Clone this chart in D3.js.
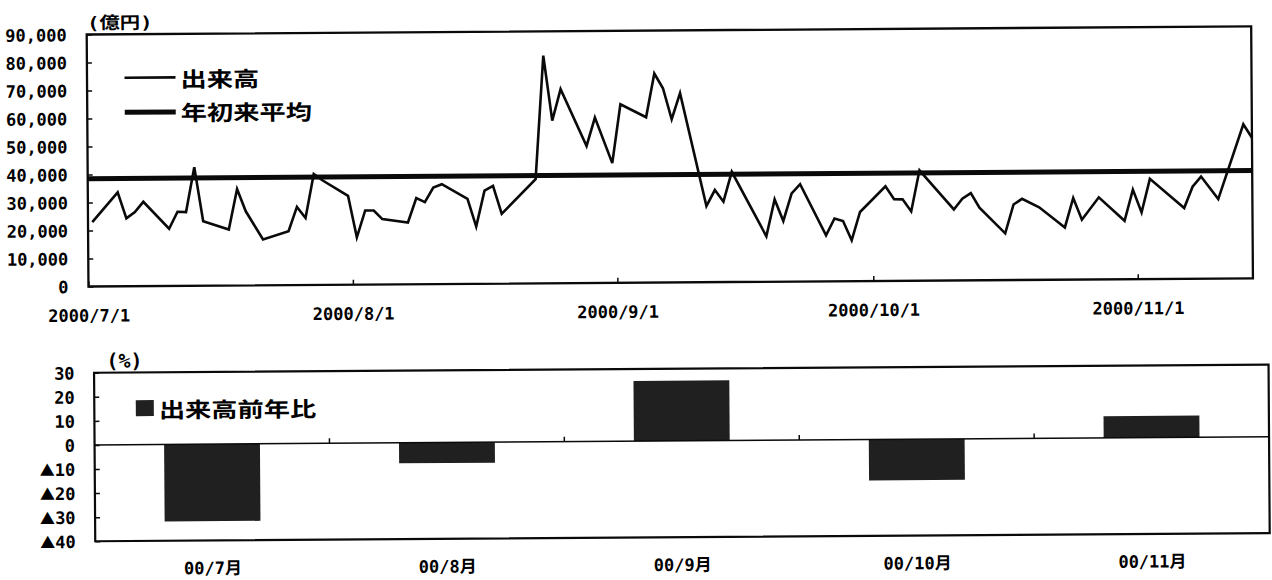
<!DOCTYPE html>
<html><head><meta charset="utf-8">
<script src="https://cdn.jsdelivr.net/npm/d3@7"></script>
<style>
html,body{margin:0;padding:0;background:#fff;}
svg{display:block;}
.num{font-family:"DejaVu Sans Mono","Noto Sans CJK JP",monospace;font-weight:bold;font-size:17px;fill:#000;}
.jp{font-family:"Noto Sans CJK JP",sans-serif;font-weight:bold;fill:#000;}
</style></head><body>
<svg id="chart" width="1272" height="580"></svg>
<script>
// ---------- data ----------
const dates = ["2000-07-01","2000-07-04","2000-07-05","2000-07-06","2000-07-07","2000-07-10","2000-07-11","2000-07-12","2000-07-13","2000-07-14",
"2000-07-17","2000-07-18","2000-07-19","2000-07-21","2000-07-24","2000-07-25","2000-07-26","2000-07-27","2000-07-28","2000-07-31",
"2000-08-01","2000-08-02","2000-08-03","2000-08-04","2000-08-07","2000-08-08","2000-08-09","2000-08-10","2000-08-11","2000-08-14",
"2000-08-15","2000-08-16","2000-08-17","2000-08-18","2000-08-22","2000-08-23","2000-08-24","2000-08-25","2000-08-28","2000-08-29",
"2000-08-31","2000-09-01","2000-09-04","2000-09-05","2000-09-06","2000-09-07","2000-09-08","2000-09-11","2000-09-12","2000-09-13",
"2000-09-14","2000-09-18","2000-09-19","2000-09-20","2000-09-21","2000-09-22","2000-09-25","2000-09-26","2000-09-27","2000-09-28",
"2000-09-29","2000-10-02","2000-10-03","2000-10-04","2000-10-05","2000-10-06","2000-10-10","2000-10-11","2000-10-12","2000-10-13",
"2000-10-16","2000-10-17","2000-10-18","2000-10-20","2000-10-23","2000-10-24","2000-10-25","2000-10-27","2000-10-30","2000-10-31",
"2000-11-01","2000-11-02","2000-11-06","2000-11-07","2000-11-08","2000-11-10","2000-11-13","2000-11-14"];
const volume = [23000,33560,24220,26460,30100,20430,26470,26330,42370,23030,
19980,34450,26460,16330,19220,27900,23910,39590,37360,31750,
16890,26470,26440,23350,22070,30740,29280,34480,35660,30360,
20440,33250,34920,24910,37200,81290,58080,69290,48950,59060,
42750,63770,59070,74660,69370,58270,67570,27160,32890,28700,
39360,16250,29390,21660,31470,34760,16440,22420,21490,14580,
24680,33790,29130,29090,24760,39410,25350,29150,31120,25890,
16680,26970,28980,25900,18660,29170,21390,29320,20890,31990,
23800,35790,25270,32890,36480,28400,55050,50230];
const ytdAverage = 38500;
const volumeTicks = [0,10000,20000,30000,40000,50000,60000,70000,80000,90000];
const monthTicks = ["2000-07-01","2000-08-01","2000-09-01","2000-10-01","2000-11-01"];
const legendTop = ["出来高","年初来平均"];
const unitTop = "(億円)";

const months = ["00/7月","00/8月","00/9月","00/10月","00/11月"];
const yoyChange = [-32,-8.5,25,-17,9];
const yoyTicks = [30,20,10,0,-10,-20,-30,-40];
const legendBottom = "出来高前年比";
const unitBottom = "(%)";

// ---------- drawing ----------
const svg = d3.select("#chart");
svg.append("rect").attr("width",1272).attr("height",580).attr("fill","#fff");
const root = svg.append("g").attr("transform","rotate(-0.4,660,290)");
const INK = "#0a0a0a";

// ===== top panel =====
const T = {left:88.5,right:1253,top:30.5,bottom:282.5};
const parse = d3.timeParse("%Y-%m-%d");
const pts = dates.map((d,i)=>({date:d3.timeHour.offset(parse(d),12), v:volume[i]}));
const x = d3.scaleTime().domain([parse(monthTicks[0]), pts[pts.length-1].date]).range([T.left,T.right]);
const y = d3.scaleLinear().domain([0,90000]).range([T.bottom,T.top]);

const yAx = root.append("g").attr("transform",`translate(${T.left},0)`)
  .call(d3.axisLeft(y).tickValues(volumeTicks).tickSizeInner(-5).tickSizeOuter(0).tickPadding(20)
    .tickFormat(d=>d3.format(",")(d)));
yAx.attr("font-family",null).attr("font-size",null);
yAx.select(".domain").remove();
yAx.selectAll("line").attr("stroke",INK).attr("stroke-width",1.5);
yAx.selectAll("text").attr("class","num").attr("dy","0.36em");

const xAx = root.append("g").attr("transform",`translate(0,${T.bottom})`)
  .call(d3.axisBottom(x).tickValues(monthTicks.map(parse)).tickSizeInner(-5).tickSizeOuter(0)
    .tickFormat(d3.timeFormat("%Y/%-m/%-d")));
xAx.attr("font-family",null).attr("font-size",null);
xAx.select(".domain").remove();
xAx.selectAll("line").attr("stroke",INK).attr("stroke-width",1.5);
xAx.selectAll("text").attr("class","num").attr("y",29).attr("dy","0.36em");

root.append("rect").attr("x",T.left).attr("y",T.top).attr("width",T.right-T.left).attr("height",T.bottom-T.top)
  .attr("fill","none").attr("stroke",INK).attr("stroke-width",2.3);

root.append("line").attr("x1",x.range()[0]).attr("x2",x.range()[1])
  .attr("y1",y(ytdAverage)).attr("y2",y(ytdAverage)).attr("stroke",INK).attr("stroke-width",5);

root.append("path").datum(pts)
  .attr("d",d3.line().x(d=>x(d.date)).y(d=>y(d.v)))
  .attr("fill","none").attr("stroke",INK).attr("stroke-width",2.6).attr("stroke-linejoin","miter");

// legend top
const lg = root.append("g");
lg.append("line").attr("x1",126).attr("x2",177).attr("y1",74).attr("y2",74).attr("stroke",INK).attr("stroke-width",2.6);
lg.append("line").attr("x1",126).attr("x2",177).attr("y1",108.5).attr("y2",108.5).attr("stroke",INK).attr("stroke-width",5);
[[legendTop[0],74.5],[legendTop[1],108]].forEach(([t,cy])=>{
  lg.append("g").attr("transform",`translate(182,${cy}) scale(1.25,1)`)
    .append("text").attr("class","jp").style("font-size","21px").attr("dominant-baseline","central").text(t);
});
root.append("g").attr("transform","translate(89,19) scale(1.2,1)")
  .append("text").attr("class","num").style("font-size","17px").attr("dominant-baseline","central").text(unitTop);

// ===== bottom panel =====
const B = {left:93.5,right:1268,top:368.8,bottom:537.3};
const xb = d3.scaleBand().domain(months).range([B.left,B.right]).paddingInner(0.592).paddingOuter(0.296);
const yb = d3.scaleLinear().domain([-40,30]).range([B.bottom,B.top]);

root.selectAll("rect.bar").data(months).enter().append("rect").attr("class","bar")
  .attr("x",m=>xb(m)).attr("width",xb.bandwidth())
  .attr("y",(m,i)=>yb(Math.max(0,yoyChange[i])))
  .attr("height",(m,i)=>Math.abs(yb(yoyChange[i])-yb(0)))
  .attr("fill","#202020");

root.append("line").attr("x1",B.left).attr("x2",B.right).attr("y1",yb(0)).attr("y2",yb(0))
  .attr("stroke",INK).attr("stroke-width",1.5);
const gapHalf = (xb.step()-xb.bandwidth())/2;
root.selectAll("line.ctick").data(months.slice(1)).enter().append("line").attr("class","ctick")
  .attr("x1",m=>xb(m)-gapHalf).attr("x2",m=>xb(m)-gapHalf)
  .attr("y1",yb(0)).attr("y2",yb(0)-5).attr("stroke",INK).attr("stroke-width",1.5);

const ybAx = root.append("g").attr("transform",`translate(${B.left},0)`)
  .call(d3.axisLeft(yb).tickValues(yoyTicks).tickSizeInner(-5).tickSizeOuter(0).tickPadding(19.5).tickFormat(d=>""));
ybAx.attr("font-family",null).attr("font-size",null);
ybAx.select(".domain").remove();
ybAx.selectAll("line").attr("stroke",INK).attr("stroke-width",1.5);
ybAx.selectAll("text").attr("class","num").attr("dy","0.36em").each(function(d){
  const t = d3.select(this);
  if (d < 0) t.append("tspan").style("font-family","Noto Sans CJK JP").style("font-size","15px").text("▲");
  t.append("tspan").text(Math.abs(d));
});

root.append("g").selectAll("text").data(months).enter().append("text")
  .attr("class","num").attr("text-anchor","middle").attr("dominant-baseline","central")
  .attr("x",m=>xb(m)+xb.bandwidth()/2).attr("y",565).text(m=>m);

root.append("rect").attr("x",B.left).attr("y",B.top).attr("width",B.right-B.left).attr("height",B.bottom-B.top)
  .attr("fill","none").attr("stroke",INK).attr("stroke-width",2.2);

// legend bottom
root.append("rect").attr("x",135).attr("y",396.5).attr("width",18).attr("height",16).attr("fill","#202020");
root.append("g").attr("transform","translate(158,405) scale(1.25,1)")
  .append("text").attr("class","jp").style("font-size","21px").attr("dominant-baseline","central").text(legendBottom);
root.append("g").attr("transform","translate(106,357)")
  .append("text").attr("class","num").style("font-size","20px").attr("dominant-baseline","central").text(unitBottom);
</script>
</body></html>
